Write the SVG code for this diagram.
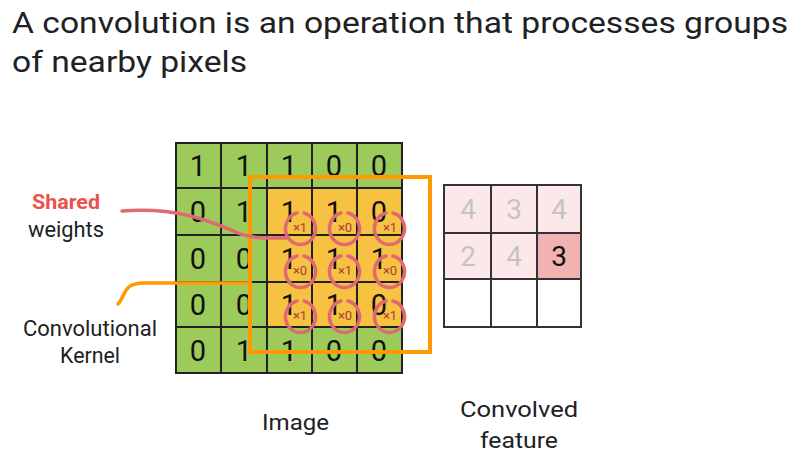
<svg xmlns="http://www.w3.org/2000/svg" width="809" height="453" viewBox="0 0 809 453">
<style>
text{font-family:Roboto,"Liberation Sans",sans-serif}
.t{font-size:30px;fill:#202124}
.l{font-size:22px;fill:#202124}
.d{font-size:29px;fill:#111;text-anchor:middle}
.g{fill:#9ccb5c;stroke:#222;stroke-width:2}
.o{fill:#f7c142;stroke:#222;stroke-width:2}
.p{fill:#fce8e8;stroke:#333;stroke-width:2}
.pd{fill:#f3b2b2;stroke:#333;stroke-width:2}
.w{fill:#fff;stroke:#333;stroke-width:2}
.gd{font-size:28px;fill:#c4c4c4;text-anchor:middle}
.c{fill:none;stroke:#e06a72;stroke-width:3.5;stroke-linecap:round}
.x{font-size:13px;fill:#a8403a;text-anchor:middle}
</style>
<g id="title">
<text class="t" x="12" y="33" textLength="776" lengthAdjust="spacingAndGlyphs">A convolution is an operation that processes groups</text>
<text class="t" x="12" y="72" textLength="235" lengthAdjust="spacingAndGlyphs">of nearby pixels</text>
</g>
<g id="image">
<rect class="g" x="176" y="143" width="226" height="230"/>
<rect class="o" x="267" y="188" width="135" height="139"/>
<g stroke="#222" stroke-width="2">
<line x1="221" y1="143" x2="221" y2="373"/>
<line x1="267" y1="143" x2="267" y2="373"/>
<line x1="312" y1="143" x2="312" y2="373"/>
<line x1="357" y1="143" x2="357" y2="373"/>
<line x1="176" y1="188" x2="402" y2="188"/>
<line x1="176" y1="235" x2="402" y2="235"/>
<line x1="176" y1="282" x2="402" y2="282"/>
<line x1="176" y1="327" x2="402" y2="327"/>
</g>
<g>
<text class="d" x="198" y="176">1</text><text class="d" x="244" y="176">1</text><text class="d" x="289" y="176">1</text><text class="d" x="334" y="176">0</text><text class="d" x="379" y="176">0</text>
<text class="d" x="198" y="222">0</text><text class="d" x="244" y="222">1</text><text class="d" x="289" y="222">1</text><text class="d" x="334" y="222">1</text><text class="d" x="379" y="222">0</text>
<text class="d" x="198" y="269">0</text><text class="d" x="244" y="269">0</text><text class="d" x="289" y="269">1</text><text class="d" x="334" y="269">1</text><text class="d" x="379" y="269">1</text>
<text class="d" x="198" y="315">0</text><text class="d" x="244" y="315">0</text><text class="d" x="289" y="315">1</text><text class="d" x="334" y="315">1</text><text class="d" x="379" y="315">0</text>
<text class="d" x="198" y="361">0</text><text class="d" x="244" y="361">1</text><text class="d" x="289" y="361">1</text><text class="d" x="334" y="361">0</text><text class="d" x="379" y="361">0</text>
</g>
</g>
<g id="kernel">
<rect x="250" y="177" width="180" height="175" fill="none" stroke="#ff9900" stroke-width="4"/>
</g>
<g id="weights">
<path class="c" d="M304,213 A15,16 0 1 1 297,213"/>
<path class="c" d="M348,213 A15,16 0 1 1 341,213"/>
<path class="c" d="M393,213 A15,16 0 1 1 386,213"/>
<path class="c" d="M304,256 A15,16 0 1 1 297,256"/>
<path class="c" d="M348,256 A15,16 0 1 1 341,256"/>
<path class="c" d="M393,256 A15,16 0 1 1 386,256"/>
<path class="c" d="M304,301 A15,16 0 1 1 297,301"/>
<path class="c" d="M348,301 A15,16 0 1 1 341,301"/>
<path class="c" d="M393,301 A15,16 0 1 1 386,301"/>
<text class="x" x="300" y="232">×1</text><text class="x" x="345" y="232">×0</text><text class="x" x="390" y="232">×1</text>
<text class="x" x="300" y="275">×0</text><text class="x" x="345" y="275">×1</text><text class="x" x="390" y="275">×0</text>
<text class="x" x="300" y="320">×1</text><text class="x" x="345" y="320">×0</text><text class="x" x="390" y="320">×1</text>
</g>
<g id="feature">
<rect class="p" x="444" y="185" width="47" height="48"/>
<rect class="p" x="491" y="185" width="46" height="48"/>
<rect class="p" x="537" y="185" width="44" height="48"/>
<rect class="p" x="444" y="233" width="47" height="46"/>
<rect class="p" x="491" y="233" width="46" height="46"/>
<rect class="pd" x="537" y="233" width="44" height="46"/>
<rect class="w" x="444" y="279" width="47" height="48"/>
<rect class="w" x="491" y="279" width="46" height="48"/>
<rect class="w" x="537" y="279" width="44" height="48"/>
<text class="gd" x="468" y="219">4</text><text class="gd" x="514" y="219">3</text><text class="gd" x="559" y="219">4</text>
<text class="gd" x="468" y="266">2</text><text class="gd" x="514" y="266">4</text><text class="gd" x="559" y="266" style="fill:#111">3</text>
</g>
<g id="connectors">
<path d="M122,211 C180,207 212,222 238,233 C252,239 268,238 286,238" fill="none" stroke="#e06a72" stroke-width="3.5" stroke-linecap="round"/>
<path d="M118,304 C126,296 122,284 142,283 L250,283" fill="none" stroke="#ff9900" stroke-width="3.5" stroke-linecap="round"/>
</g>
<g id="labels">
<text x="32" y="209" textLength="68" lengthAdjust="spacingAndGlyphs" style="font-size:21px;font-weight:bold;fill:#e8534a">Shared</text>
<text class="l" x="28" y="237" textLength="76" lengthAdjust="spacingAndGlyphs">weights</text>
<text class="l" x="23" y="336" textLength="134" lengthAdjust="spacingAndGlyphs">Convolutional</text>
<text class="l" x="60" y="363" textLength="60" lengthAdjust="spacingAndGlyphs">Kernel</text>
<text class="l" x="262" y="430" textLength="67" lengthAdjust="spacingAndGlyphs">Image</text>
<text class="l" x="460" y="417" textLength="118" lengthAdjust="spacingAndGlyphs">Convolved</text>
<text class="l" x="480" y="448" textLength="78" lengthAdjust="spacingAndGlyphs">feature</text>
</g>
</svg>
